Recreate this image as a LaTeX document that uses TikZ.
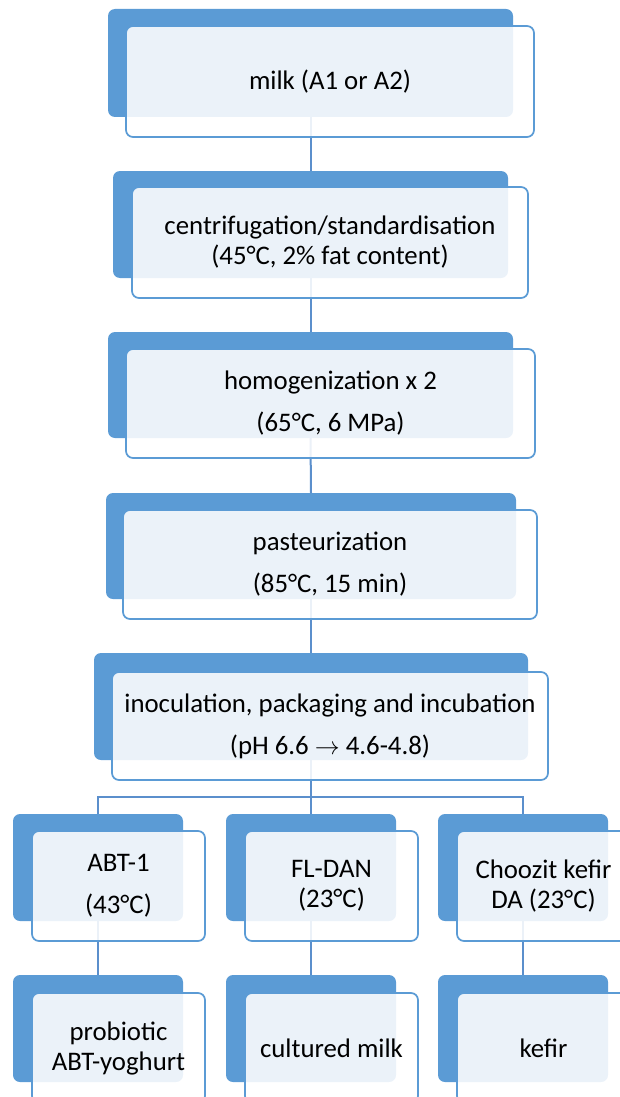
\documentclass[tikz,border=0pt]{standalone}
\usepackage{fontspec}
\setmainfont{Carlito}
\definecolor{accent}{HTML}{5B9BD5}
\definecolor{linec}{HTML}{5B8FCC}
\tikzset{
  backbox/.style={rectangle, rounded corners=7pt, fill=accent, inner sep=0pt, outer sep=0pt},
  frontbox/.style={rectangle, rounded corners=7pt, draw=accent, line width=1.7pt, fill=white, fill opacity=0.88, text opacity=1, inner sep=0pt, outer sep=0pt, align=center, text=black, font=\fontsize{26.8}{30}\selectfont},
  conn/.style={draw=linec, line width=2pt},
}
\begin{document}
\begin{tikzpicture}[x=1pt,y=-1pt]
\useasboundingbox (0,0) rectangle (619,1097);
% back boxes
\node[backbox, minimum width=405, minimum height=108] (b1) at (310.5,63) {};
\node[backbox, minimum width=395, minimum height=107] (b2) at (310.5,224.5) {};
\node[backbox, minimum width=405, minimum height=106] (b3) at (310.5,385) {};
\node[backbox, minimum width=410, minimum height=106] (b4) at (311,546) {};
\node[backbox, minimum width=434, minimum height=107] (b5) at (311,706.5) {};
\node[backbox, minimum width=170, minimum height=107] (l6) at (98,867.5) {};
\node[backbox, minimum width=170, minimum height=107] (m6) at (311,867.5) {};
\node[backbox, minimum width=170, minimum height=107] (r6) at (523,867.5) {};
\node[backbox, minimum width=170, minimum height=107] (l7) at (98,1028.5) {};
\node[backbox, minimum width=170, minimum height=107] (m7) at (311,1028.5) {};
\node[backbox, minimum width=170, minimum height=107] (r7) at (523,1028.5) {};
% connectors
\coordinate (bus) at (311,797);
\draw[conn] (b1.south) -- (b2.north);
\draw[conn] (b2.south) -- (b3.north);
\draw[conn] (b3.south) -- (b4.north);
\draw[conn] (b4.south) -- (b5.north);
\draw[conn] (b5.south) -- (m6.north);
\draw[conn] (l6.north) |- (bus) -| (r6.north);
\draw[conn] (l6.south) -- (l7.north);
\draw[conn] (m6.south) -- (m7.north);
\draw[conn] (r6.south) -- (r7.north);
% front boxes
\node[frontbox, minimum width=408, minimum height=111] (f1) at (330,81.5) {milk (A1 or A2)};
\node[frontbox, minimum width=396, minimum height=111] (f2) at (330,242.5) {centrifugation/standardisation\\(45°C, 2\% fat content)};
\node[frontbox, minimum width=409, minimum height=109] (f3) at (330.5,403.5) {homogenization x 2\\[12pt](65°C, 6 MPa)};
\node[frontbox, minimum width=414, minimum height=109] (f4) at (330,564.5) {pasteurization\\[12pt](85°C, 15 min)};
\node[frontbox, minimum width=436, minimum height=108] (f5) at (330,726) {inoculation, packaging and incubation\\[12pt](pH 6.6 $\rightarrow$ 4.6-4.8)};
\node[frontbox, minimum width=173, minimum height=110] (fl6) at (118.5,886) {ABT-1\\[12pt](43°C)};
\node[frontbox, minimum width=173, minimum height=110] (fm6) at (331.5,886) {FL-DAN\\(23°C)};
\node[frontbox, minimum width=173, minimum height=110] (fr6) at (543.5,886) {Choozit kefir\\DA (23°C)};
\node[frontbox, minimum width=173, minimum height=110] (fl7) at (118.5,1048) {probiotic\\ABT-yoghurt};
\node[frontbox, minimum width=173, minimum height=110] (fm7) at (331.5,1048) {cultured milk};
\node[frontbox, minimum width=173, minimum height=110] (fr7) at (543.5,1048) {kefir};
\end{tikzpicture}
\end{document}
